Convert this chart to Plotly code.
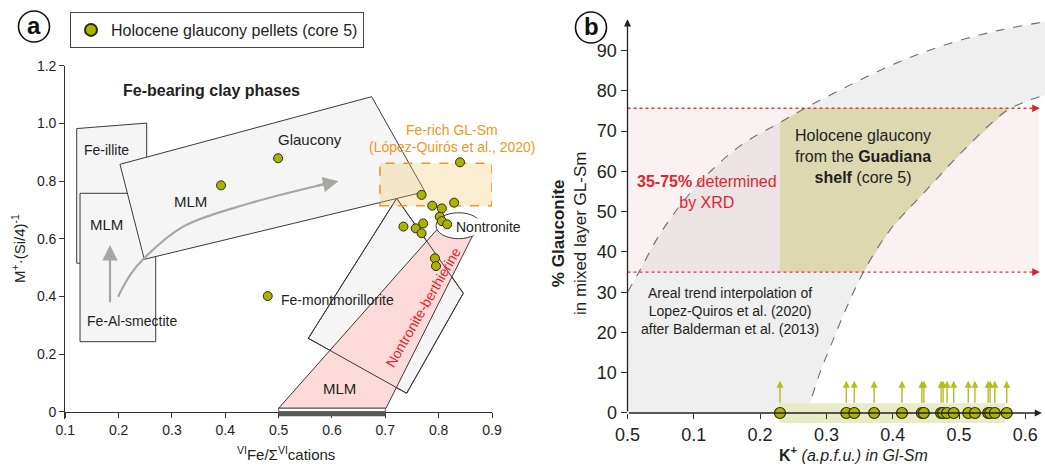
import plotly.graph_objects as go

W, H = 1045, 468
FONT = "Liberation Sans, Arial, sans-serif"
TXT = "#231f20"

# ---------------- Panel a data ----------------
fe_ratio = [0.392, 0.499, 0.840, 0.768, 0.788, 0.806, 0.829, 0.802, 0.806,
            0.816, 0.734, 0.757, 0.771, 0.768, 0.793, 0.795, 0.4795]
m_si = [0.785, 0.879, 0.865, 0.752, 0.7145, 0.705, 0.725, 0.676, 0.661,
        0.650, 0.642, 0.636, 0.653, 0.619, 0.532, 0.505, 0.401]
xa_ticks = [0.1, 0.2, 0.3, 0.4, 0.5, 0.6, 0.7, 0.8, 0.9]
xa_ticktext = ["0.1", "0.2", "0.3", "0.4", "0.5", "0.6", "0.7", "0.8", "0.9"]
ya_ticks = [0, 0.2, 0.4, 0.6, 0.8, 1.0, 1.2]
ya_ticktext = ["0", "0.2", "0.4", "0.6", "0.8", "1.0", "1.2"]

# field outlines (panel a)
fe_illite = [(0.1214, 0.515), (0.1214, 0.982), (0.2526, 1.001), (0.2526, 0.515)]
mlm_smectite = [(0.1276, 0.2428), (0.1276, 0.7575), (0.2695, 0.7575), (0.2695, 0.2428)]
glaucony_box = [(0.2025, 0.858), (0.6744, 1.0926), (0.7744, 0.763), (0.2481, 0.5286)]
nontronite_box = [(0.7213, 0.740), (0.8462, 0.4107), (0.740, 0.0638), (0.5556, 0.2546)]
nb_zone = [(0.5, 0.012), (0.7012, 0.012), (0.866, 0.619), (0.796, 0.630)]
fe_rich_x = [0.690, 0.900]
fe_rich_y = [0.7145, 0.8616]
nontronite_ell_x = [0.795, 0.880]
nontronite_ell_y = [0.600, 0.690]
trend_x = [0.199, 0.222, 0.2476, 0.321, 0.446, 0.585]
trend_y = [0.399, 0.475, 0.532, 0.642, 0.723, 0.789]

# ---------------- Panel b data ----------------
k_apfu = [0.230, 0.330, 0.342, 0.372, 0.414, 0.444, 0.447, 0.473, 0.476,
          0.482, 0.492, 0.514, 0.524, 0.544, 0.547, 0.554, 0.572]
upper_x = [0.0, 0.019, 0.0465, 0.082, 0.122, 0.172, 0.2326, 0.268, 0.336,
           0.411, 0.486, 0.562, 0.63]
upper_y = [30.0, 35.5, 43.8, 52.1, 59.5, 66.6, 72.4, 75.7, 81.5, 87.3, 91.8, 95.1, 97.2]
lower_x = [0.27, 0.275, 0.29, 0.308, 0.331, 0.356, 0.396, 0.451, 0.512, 0.574, 0.63]
lower_y = [0.0, 2.4, 9.9, 17.3, 26.4, 35.1, 45.5, 55.4, 66.1, 75.3, 79.0]
xrd_range = [35.0, 75.7]
xb_ticks = [0, 0.1, 0.2, 0.3, 0.4, 0.5, 0.6]
xb_ticktext = ["0.5", "0.1", "0.2", "0.3", "0.4", "0.5", "0.6"]
yb_ticks = [0, 10, 20, 30, 40, 50, 60, 70, 80, 90]

# ---------------- layout geometry (pixels) ----------------
a_x0px, a_x1px = 65.3, 492.0
a_y0px, a_y12px = 411.7, 65.7
a_yscale = (a_y0px - a_y12px) / 1.2
a_ymin = -0.025
a_ybot_px = a_y0px - a_ymin * a_yscale
b_x0px, b_xscale = 627.5, 663.0
b_y0px, b_yscale = 413.0, 4.026
b_xmax = (W - b_x0px) / b_xscale
b_ymin, b_ymax = -5.0, 99.0


def px2paper_x(px):
    return px / W


def px2paper_y(py):
    return 1 - py / H


fig = go.Figure()

MARKER_FILL = "#a9b300"
MARKER_LINE = "#2d2d0a"

# ----- panel a traces -----
fig.add_trace(go.Scatter(x=trend_x, y=trend_y, mode="lines", line=dict(color="#a9a5a5", width=2.2, shape="spline"),
                         xaxis="x", yaxis="y", showlegend=False, hoverinfo="skip"))
fig.add_trace(go.Scatter(x=fe_ratio, y=m_si, mode="markers", name="Holocene glaucony pellets (core 5)",
                         marker=dict(size=9, color=MARKER_FILL, line=dict(color=MARKER_LINE, width=1)),
                         xaxis="x", yaxis="y", cliponaxis=False))

# ----- panel b traces -----
grey_x = upper_x + lower_x[::-1] + [0.0]
grey_y = upper_y + lower_y[::-1] + [0.0]
fig.add_trace(go.Scatter(x=grey_x, y=grey_y, fill="toself", mode="none", fillcolor="#efefef",
                         xaxis="x2", yaxis="y2", showlegend=False, hoverinfo="skip"))
fig.add_trace(go.Scatter(x=[0, 0.621, 0.621, 0, 0], y=[xrd_range[0], xrd_range[0], xrd_range[1], xrd_range[1], xrd_range[0]],
                         fill="toself", mode="none", fillcolor="rgba(207,143,151,0.125)",
                         xaxis="x2", yaxis="y2", showlegend=False, hoverinfo="skip"))
kmin = min(k_apfu)
ol_x = [kmin, kmin, 0.268, 0.577, 0.574, 0.512, 0.451, 0.396, 0.356, kmin]
ol_y = [xrd_range[0], 72.2, xrd_range[1], xrd_range[1], 75.3, 66.1, 55.4, 45.5, xrd_range[0], xrd_range[0]]
fig.add_trace(go.Scatter(x=ol_x, y=ol_y, fill="toself", mode="none", fillcolor="#dcd9b1",
                         xaxis="x2", yaxis="y2", showlegend=False, hoverinfo="skip"))
for cx, cy in [(upper_x, upper_y), (lower_x, lower_y)]:
    fig.add_trace(go.Scatter(x=cx, y=cy, mode="lines", line=dict(color="#6e6e6e", width=1.1, dash="dash", shape="spline"),
                             xaxis="x2", yaxis="y2", showlegend=False, hoverinfo="skip"))
for yv in xrd_range:
    fig.add_trace(go.Scatter(x=[0, 0.615], y=[yv, yv], mode="lines", line=dict(color="#e0383e", width=1.3, dash="dot"),
                             xaxis="x2", yaxis="y2", showlegend=False, hoverinfo="skip"))
fig.add_trace(go.Scatter(x=[0.2285, 0.569, 0.569, 0.2285, 0.2285], y=[-2.5, -2.5, 2.4, 2.4, -2.5],
                         fill="toself", mode="none", fillcolor="#e8ecc6",
                         xaxis="x2", yaxis="y2", showlegend=False, hoverinfo="skip"))
fig.add_trace(go.Scatter(x=k_apfu, y=[0] * len(k_apfu), mode="markers",
                         marker=dict(size=11, color=MARKER_FILL, line=dict(color=MARKER_LINE, width=1.2)),
                         xaxis="x2", yaxis="y2", showlegend=False, cliponaxis=False))

# ----- shapes (panel a fields) -----
shapes = []


def poly_path(pts):
    return "M " + " L ".join(f"{x},{y}" for x, y in pts) + " Z"


BOX_LINE = "#3a3a3a"
for pts in [fe_illite, mlm_smectite, glaucony_box, nontronite_box]:
    shapes.append(dict(type="path", path=poly_path(pts), xref="x", yref="y", layer="below",
                       fillcolor="#f5f5f5", line=dict(color=BOX_LINE, width=1)))
shapes.append(dict(type="path", path=poly_path(nb_zone), xref="x", yref="y", layer="below",
                   fillcolor="#fcdada", line=dict(color=BOX_LINE, width=1)))
shapes.append(dict(type="path", path=poly_path(nontronite_box), xref="x", yref="y", layer="below",
                   fillcolor="rgba(0,0,0,0)", line=dict(color=BOX_LINE, width=1)))
shapes.append(dict(type="circle", xref="x", yref="y", layer="below",
                   x0=nontronite_ell_x[0], x1=nontronite_ell_x[1], y0=nontronite_ell_y[0], y1=nontronite_ell_y[1],
                   fillcolor="white", line=dict(color=BOX_LINE, width=1)))
shapes.append(dict(type="rect", xref="x", yref="y", layer="below",
                   x0=fe_rich_x[0], x1=fe_rich_x[1], y0=fe_rich_y[0], y1=fe_rich_y[1],
                   fillcolor="rgba(240,195,100,0.3)", line=dict(color="#f0961e", width=1.6, dash="dash")))
shapes.append(dict(type="rect", xref="x", yref="y", layer="above", x0=0.5, x1=0.7, y0=0, y1=0.012,
                   fillcolor="white", line=dict(color=BOX_LINE, width=0.8)))
shapes.append(dict(type="rect", xref="x", yref="y", layer="above", x0=0.5, x1=0.7, y0=-0.015, y1=0,
                   fillcolor="#575757", line=dict(color="#575757", width=0.5)))
for cx, cy in [(34, 26.5), (591, 27.5)]:
    shapes.append(dict(type="circle", xref="paper", yref="paper",
                       x0=px2paper_x(cx - 15.5), x1=px2paper_x(cx + 15.5),
                       y0=px2paper_y(cy + 15.5), y1=px2paper_y(cy - 15.5),
                       line=dict(color="#111", width=1.6), fillcolor="white"))

ann = []


def atext(x, y, text, size=14, color=TXT, xref="x", yref="y", **kw):
    d = dict(x=x, y=y, text=text, xref=xref, yref=yref, showarrow=False,
             xanchor="center", yanchor="middle",
             font=dict(family=FONT, size=size, color=color))
    d.update(kw)
    ann.append(d)


# panel a labels
atext(0.3745, 1.1134, "<b>Fe-bearing clay phases</b>", size=16)
atext(0.1776, 0.9077, "Fe-illite")
atext(0.1776, 0.651, "MLM", size=15)
atext(0.3338, 0.7284, "MLM", size=15)
atext(0.5588, 0.9424, "Glaucony", size=15)
atext(0.2245, 0.3156, "Fe-Al-smectite")
atext(0.5012, 0.3874, "Fe-montmorillorite", xanchor="left")
atext(0.8306, 0.6406, "Nontronite", xanchor="left", bgcolor="white", borderpad=0)
atext(0.615, 0.081, "MLM", size=15)
atext(0.771, 0.364, "Nontronite-berthierine", size=14, color="#e0262b", textangle=-60)
atext(0.825, 0.977, "Fe-rich GL-Sm", size=14, color="#f0961e")
atext(0.825, 0.918, "(López-Quirós et al., 2020)", size=14, color="#f0961e")
ann.append(dict(x=0.612, y=0.799, ax=0.57, ay=0.783, xref="x", yref="y", axref="x", ayref="y", text="",
                showarrow=True, arrowhead=2, arrowsize=1.4, arrowwidth=2.2, arrowcolor="#a9a5a5"))
ann.append(dict(x=0.1838, y=0.578, ax=0.1838, ay=0.374, xref="x", yref="y", axref="x", ayref="y", text="",
                showarrow=True, arrowhead=2, arrowsize=1.4, arrowwidth=2.2, arrowcolor="#a9a5a5"))
atext(px2paper_x(285.5), px2paper_y(453), "<sup>VI</sup>Fe/Σ<sup>VI</sup>cations", size=15, xref="paper", yref="paper")
atext(px2paper_x(18), px2paper_y(249), "M<sup>+</sup>·(Si/4)<sup>-1</sup>", size=15, xref="paper", yref="paper",
      textangle=-90)
atext(px2paper_x(34), px2paper_y(25.5), "<b>a</b>", size=24, xref="paper", yref="paper", color="#111")
atext(px2paper_x(591), px2paper_y(26.5), "<b>b</b>", size=24, xref="paper", yref="paper", color="#111")

# panel b labels
atext(0.3552, 63.6, "Holocene glaucony<br>from the <b>Guadiana</b><br><b>shelf</b> (core 5)", size=16,
      xref="x2", yref="y2")
atext(0.12, 54.9, "<b>35-75%</b> determined<br>by XRD", size=16, color="#e0262b", xref="x2", yref="y2")
atext(0.1546, 25.4, "Areal trend interpolation of<br>Lopez-Quiros et al. (2020)<br>after Balderman et al. (2013)",
      size=14, xref="x2", yref="y2")
atext(px2paper_x(569), px2paper_y(234), "<b>% Glauconite</b><br>in mixed layer GL-Sm", size=17,
      xref="paper", yref="paper", textangle=-90)
atext(px2paper_x(853), px2paper_y(454), "<b>K<sup>+</sup></b> <i>(a.p.f.u.) in Gl-Sm</i>", size=16,
      xref="paper", yref="paper")
ann.append(dict(x=0, y=97.8, ax=0, ay=0, xref="x2", yref="y2", axref="x2", ayref="y2", text="",
                showarrow=True, arrowhead=2, arrowsize=1.1, arrowwidth=1.3, arrowcolor="#222"))
ann.append(dict(x=0.625, y=0, ax=0, ay=0, xref="x2", yref="y2", axref="x2", ayref="y2", text="",
                showarrow=True, arrowhead=2, arrowsize=1.1, arrowwidth=1.3, arrowcolor="#222"))
for yv in xrd_range:
    ann.append(dict(x=0.622, y=yv, ax=0.612, ay=yv, xref="x2", yref="y2", axref="x2", ayref="y2", text="",
                    showarrow=True, arrowhead=2, arrowsize=1.1, arrowwidth=1.4, arrowcolor="#d8232a"))
for k in k_apfu:
    ann.append(dict(x=k, y=8.0, ax=k, ay=2.2, xref="x2", yref="y2", axref="x2", ayref="y2", text="",
                    showarrow=True, arrowhead=2, arrowsize=1.0, arrowwidth=1.4, arrowcolor="#b5bd1f"))

tickfont_a = dict(family=FONT, size=14, color=TXT)
tickfont_b = dict(family=FONT, size=18, color=TXT)

fig.update_layout(
    width=W, height=H, autosize=False, margin=dict(l=0, r=0, t=0, b=0, pad=0, autoexpand=False),
    paper_bgcolor="white", plot_bgcolor="rgba(0,0,0,0)",
    shapes=shapes, annotations=ann,
    showlegend=True,
    legend=dict(x=px2paper_x(70), y=px2paper_y(12), xanchor="left", yanchor="top",
                bordercolor="#444", borderwidth=1, bgcolor="white",
                font=dict(family=FONT, size=16, color=TXT), itemsizing="constant"),
    xaxis=dict(domain=[px2paper_x(a_x0px), px2paper_x(a_x1px)], range=[0.1, 0.9],
               anchor="free", position=px2paper_y(a_y0px),
               showline=True, linecolor="#333", linewidth=1.2, ticks="outside", ticklen=5, tickcolor="#333",
               tickvals=xa_ticks, ticktext=xa_ticktext, tickfont=tickfont_a, showgrid=False, zeroline=False),
    yaxis=dict(domain=[px2paper_y(a_ybot_px), px2paper_y(a_y12px)], range=[a_ymin, 1.2],
               anchor="x", showline=True, linecolor="#333", linewidth=1.2, ticks="outside", ticklen=5,
               tickcolor="#333", tickvals=ya_ticks, ticktext=ya_ticktext, tickfont=tickfont_a,
               showgrid=False, zeroline=False),
    xaxis2=dict(domain=[px2paper_x(b_x0px), 1.0], range=[0, b_xmax],
                anchor="free", position=px2paper_y(b_y0px),
                showline=False, ticks="outside", ticklen=5, tickcolor="#333",
                tickvals=xb_ticks, ticktext=xb_ticktext, tickfont=tickfont_b, showgrid=False, zeroline=False),
    yaxis2=dict(domain=[px2paper_y(b_y0px - b_ymin * b_yscale), px2paper_y(b_y0px - b_ymax * b_yscale)],
                range=[b_ymin, b_ymax], anchor="x2",
                showline=False, ticks="outside", ticklen=6, tickcolor="#333",
                tickvals=yb_ticks, tickfont=tickfont_b, showgrid=False, zeroline=False),
)

fig.write_html("out.html", config={"responsive": False, "displayModeBar": False},
               post_script="document.body.style.margin='0';document.body.style.overflow='hidden';")
